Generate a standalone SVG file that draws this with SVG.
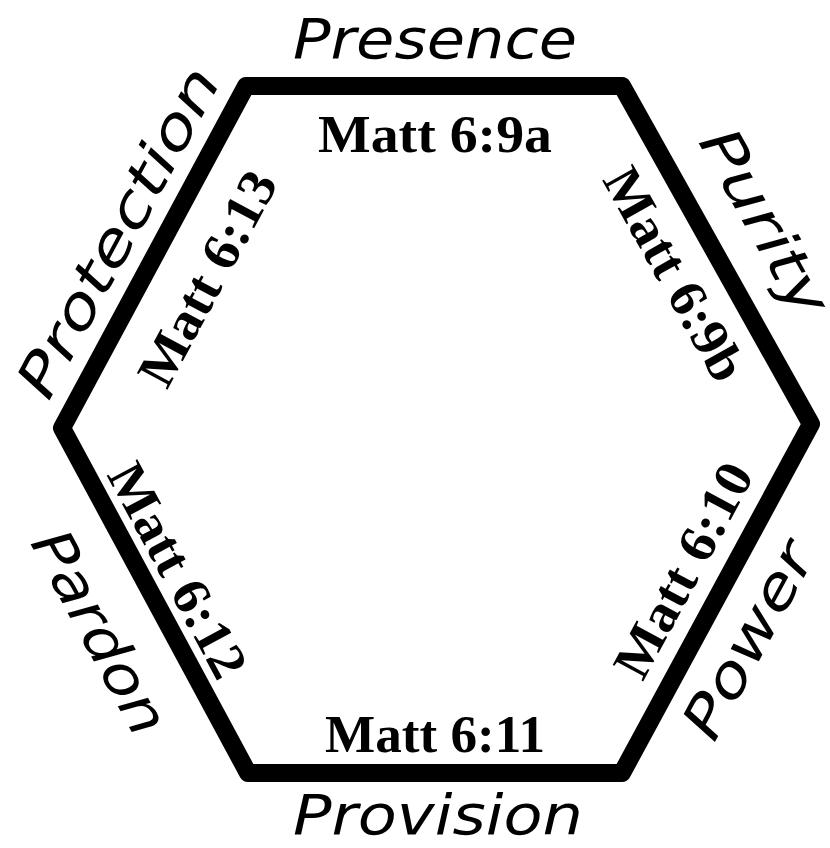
<svg xmlns="http://www.w3.org/2000/svg" width="830" height="848" viewBox="0 0 830 848">
<style>
.ref{font-family:"Liberation Serif","DejaVu Serif",serif;font-weight:bold;font-size:53px;fill:#000;text-anchor:middle;dominant-baseline:central}
.hand{font-family:"DejaVu Sans","Liberation Sans",sans-serif;font-style:italic;font-weight:200;font-size:56px;fill:#000;text-anchor:middle;dominant-baseline:central}
</style>
<rect width="830" height="848" fill="#fff"/>
<g id="hexagon">
<polygon points="246,86 622,86 811,424 622,773 248,773 62,428" fill="none" stroke="#000" stroke-width="18" stroke-linejoin="round"/>
</g>
<g id="side-presence">
<text class="ref" x="435" y="134" textLength="234" lengthAdjust="spacingAndGlyphs">Matt 6:9a</text>
<text class="hand" x="435" y="38" textLength="284" lengthAdjust="spacingAndGlyphs">Presence</text>
</g>
<g id="side-purity">
<text class="ref" transform="translate(675,274) rotate(60.8)" textLength="236" lengthAdjust="spacingAndGlyphs">Matt 6:9b</text>
<text class="hand" transform="translate(765,222) rotate(60.8)" textLength="206" lengthAdjust="spacingAndGlyphs">Purity</text>
</g>
<g id="side-power">
<text class="ref" transform="translate(683,570) rotate(-61.6)" textLength="236" lengthAdjust="spacingAndGlyphs">Matt 6:10</text>
<text class="hand" transform="translate(748,640) rotate(-61.6)" textLength="215" lengthAdjust="spacingAndGlyphs">Power</text>
</g>
<g id="side-provision">
<text class="ref" x="435" y="734" textLength="220" lengthAdjust="spacingAndGlyphs">Matt 6:11</text>
<text class="hand" x="438" y="814" textLength="290" lengthAdjust="spacingAndGlyphs">Provision</text>
</g>
<g id="side-pardon">
<text class="ref" transform="translate(178,570) rotate(61.7)" textLength="236" lengthAdjust="spacingAndGlyphs">Matt 6:12</text>
<text class="hand" transform="translate(100,632) rotate(61.7)" textLength="224" lengthAdjust="spacingAndGlyphs">Pardon</text>
</g>
<g id="side-protection">
<text class="ref" transform="translate(207,278) rotate(-61.7)" textLength="236" lengthAdjust="spacingAndGlyphs">Matt 6:13</text>
<text class="hand" transform="translate(118,232) rotate(-61.7)" textLength="366" lengthAdjust="spacingAndGlyphs">Protection</text>
</g>
<g id="connectors"></g>
</svg>
